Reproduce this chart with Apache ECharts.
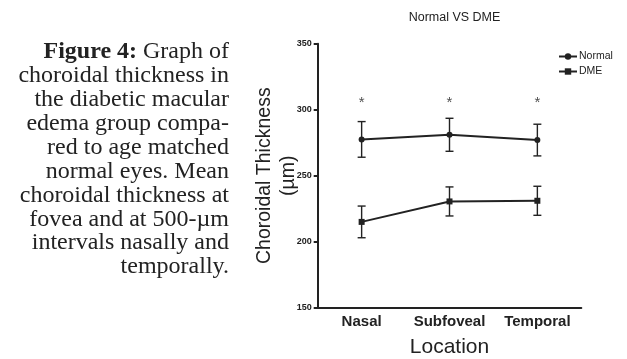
<!DOCTYPE html>
<html>
<head>
<meta charset="utf-8">
<script src="https://cdn.jsdelivr.net/npm/echarts@6/dist/echarts.min.js"></script>
<style>
  html, body { margin: 0; padding: 0; background: #fff; }
  #chart { width: 627px; height: 359px; }
</style>
</head>
<body>
<div id="chart"></div>
<script>
var categories = ["Nasal", "Subfoveal", "Temporal"];
var normalMean = [277.5, 281, 277];
var normalErr = [13.5, 12.5, 12];
var dmeMean = [215, 230.5, 231];
var dmeErr = [12, 11, 11];
var starValue = [307, 307, 307];
var yTicks = [150, 200, 250, 300, 350];
var captionLines = [
  "{b|Figure 4:} Graph of",
  "choroidal thickness in",
  "the diabetic macular",
  "edema group compa-",
  "red to age matched",
  "normal eyes. Mean",
  "choroidal thickness at",
  "fovea and at 500-\u00b5m",
  "intervals nasally and",
  "temporally."
];

var ink = "#222";
var serif = "'Liberation Serif', 'Times New Roman', serif";

function errData(mean, err) {
  return mean.map(function (m, i) {
    return [i, m - err[i], m + err[i]];
  });
}

function renderErr(params, api) {
  var lo = api.coord([api.value(0), api.value(1)]);
  var hi = api.coord([api.value(0), api.value(2)]);
  var w = 4;
  var st = { stroke: ink, lineWidth: 1.4 };
  return {
    type: "group",
    children: [
      { type: "line", shape: { x1: lo[0], y1: lo[1], x2: hi[0], y2: hi[1] }, style: st },
      { type: "line", shape: { x1: hi[0] - w, y1: hi[1], x2: hi[0] + w, y2: hi[1] }, style: st },
      { type: "line", shape: { x1: lo[0] - w, y1: lo[1], x2: lo[0] + w, y2: lo[1] }, style: st }
    ]
  };
}

// one text element per caption line, right aligned
var caption = captionLines.map(function (line, i) {
  return {
    type: "text",
    x: 229,
    y: 52 + i * 23.9,
    style: {
      text: line,
      fill: ink,
      align: "right",
      verticalAlign: "middle",
      font: "24px " + serif,
      rich: {
        b: { fontWeight: "bold", fontSize: 24, fontFamily: "Liberation Serif" }
      }
    }
  };
});

var myChart = echarts.init(document.getElementById("chart"));
var option = {
  animation: false,
  textStyle: { fontFamily: "Liberation Sans, Arial, sans-serif" },
  title: {
    text: "Normal VS DME",
    left: 449.5,
    textAlign: "center",
    top: 6,
    textStyle: { color: ink, fontSize: 12.5, fontWeight: "normal" }
  },
  legend: {
    orient: "vertical",
    left: 553,
    top: 46,
    itemWidth: 18,
    itemHeight: 8,
    itemGap: 4,
    data: ["Normal", "DME"],
    textStyle: { color: ink, fontSize: 10.5, padding: [0, 0, 0, -3] }
  },
  graphic: caption,
  grid: { left: 317.7, right: 45.7, top: 43.7, bottom: 51.3, outerBoundsMode: "none" },
  xAxis: {
    type: "category",
    data: categories,
    name: "Location",
    nameLocation: "middle",
    nameGap: 29,
    nameMoveOverlap: false,
    nameTextStyle: { color: ink, fontSize: 21 },
    axisLine: { lineStyle: { color: ink, width: 2 } },
    axisTick: { alignWithLabel: true, length: 4, lineStyle: { color: ink, width: 2 } },
    axisLabel: { color: ink, fontSize: 15, fontWeight: "bold", margin: 7, interval: 0 }
  },
  yAxis: {
    type: "value",
    min: 150,
    max: 350,
    interval: 50,
    name: "Choroidal Thickness\n(\u00b5m)",
    nameLocation: "middle",
    nameRotate: 90,
    nameGap: 17.5,
    nameMoveOverlap: false,
    nameTextStyle: { color: ink, fontSize: 19.5, lineHeight: 23.5 },
    axisLine: { show: true, lineStyle: { color: ink, width: 2 } },
    axisTick: { show: true, length: 4, lineStyle: { color: ink, width: 2 } },
    axisLabel: {
      color: ink, fontSize: 9, fontWeight: "bold", margin: 6,
      formatter: function (v) { return yTicks.indexOf(v) >= 0 ? v : ""; }
    },
    splitLine: { show: false }
  },
  series: [
    {
      name: "Normal",
      type: "line",
      data: normalMean,
      symbol: "circle",
      symbolSize: 6,
      itemStyle: { color: ink },
      lineStyle: { color: ink, width: 2 },
      z: 3
    },
    {
      name: "DME",
      type: "line",
      data: dmeMean,
      symbol: "rect",
      symbolSize: 6,
      itemStyle: { color: ink },
      lineStyle: { color: ink, width: 2 },
      z: 3
    },
    {
      type: "custom",
      renderItem: renderErr,
      data: errData(normalMean, normalErr),
      silent: true,
      z: 2
    },
    {
      type: "custom",
      renderItem: renderErr,
      data: errData(dmeMean, dmeErr),
      silent: true,
      z: 2
    },
    {
      type: "scatter",
      data: starValue,
      symbolSize: 0,
      silent: true,
      label: {
        show: true,
        position: "inside",
        formatter: "*",
        color: ink,
        fontSize: 15,
        offset: [0, 2]
      }
    }
  ]
};
option && myChart.setOption(option);
</script>
</body>
</html>
